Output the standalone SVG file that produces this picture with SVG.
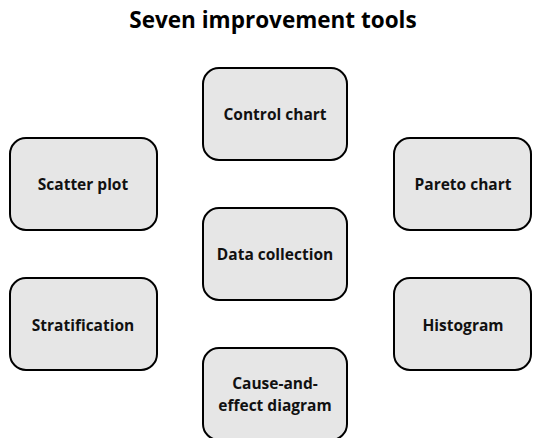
<svg xmlns="http://www.w3.org/2000/svg" width="539" height="438" viewBox="0 0 539 438">
  <style>
    .box { fill: #e6e6e6; stroke: #000; stroke-width: 2; }
    .label { font-family: "Open Sans", "Liberation Sans", sans-serif; font-weight: bold; font-size: 15.5px; fill: #111; text-anchor: middle; }
    .title { font-family: "Open Sans", "Liberation Sans", sans-serif; font-weight: bold; font-size: 22.5px; fill: #000; text-anchor: middle; }
  </style>
  <rect width="539" height="438" fill="#fff"/>
  <text class="title" x="273" y="28">Seven improvement tools</text>

  <g id="connectors"/>

  <g id="control-chart">
    <rect class="box" x="203" y="68" width="144" height="92" rx="16"/>
    <text class="label" x="275" y="120">Control chart</text>
  </g>
  <g id="scatter-plot">
    <rect class="box" x="10" y="138" width="147" height="92" rx="16"/>
    <text class="label" x="83" y="190">Scatter plot</text>
  </g>
  <g id="pareto-chart">
    <rect class="box" x="394" y="138" width="137" height="92" rx="16"/>
    <text class="label" x="463" y="190">Pareto chart</text>
  </g>
  <g id="data-collection">
    <rect class="box" x="203" y="208" width="144" height="92" rx="16"/>
    <text class="label" x="275" y="260">Data collection</text>
  </g>
  <g id="stratification">
    <rect class="box" x="10" y="278" width="147" height="92" rx="16"/>
    <text class="label" x="83" y="331">Stratification</text>
  </g>
  <g id="histogram">
    <rect class="box" x="394" y="278" width="137" height="92" rx="16"/>
    <text class="label" x="463" y="331">Histogram</text>
  </g>
  <g id="cause-and-effect">
    <rect class="box" x="203" y="348" width="144" height="92" rx="16"/>
    <text class="label" x="275" y="389">Cause-and-</text>
    <text class="label" x="275" y="411">effect diagram</text>
  </g>
</svg>
